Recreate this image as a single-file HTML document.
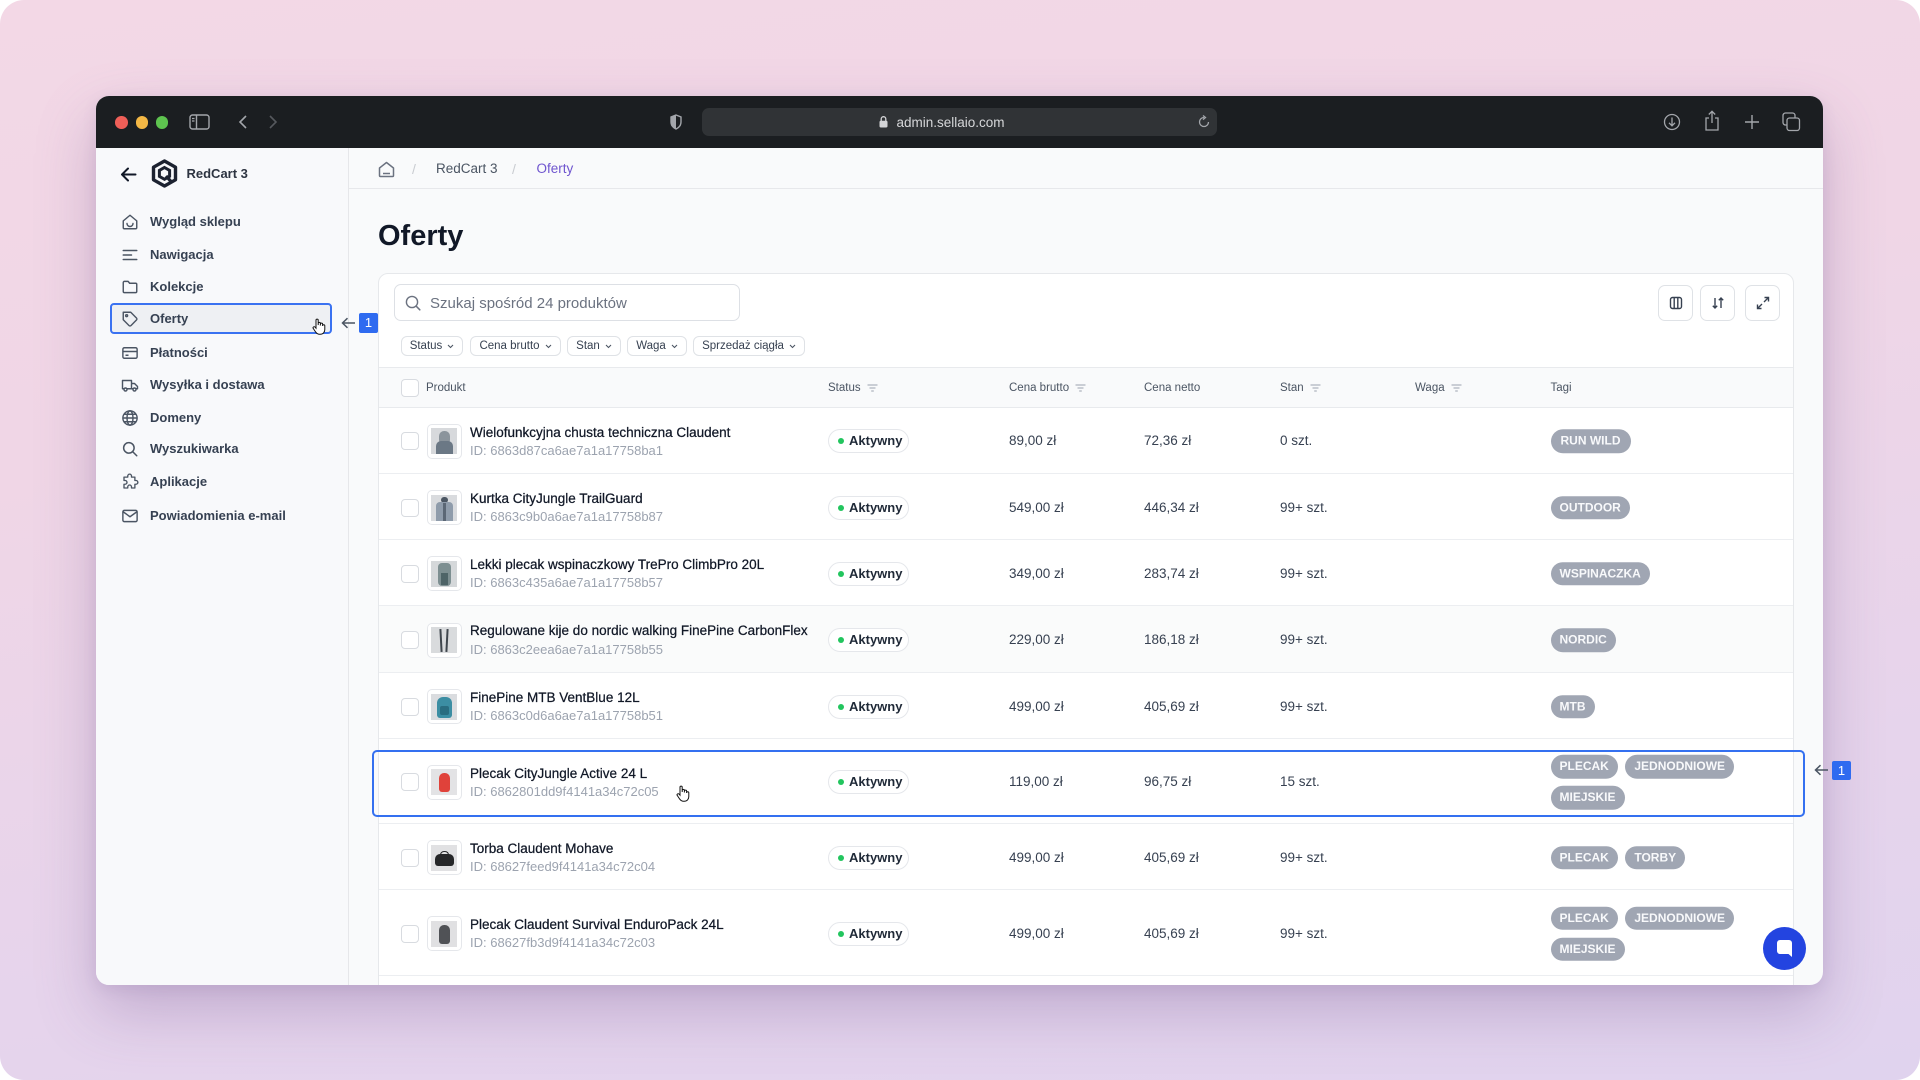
<!DOCTYPE html>
<html><head><meta charset="utf-8">
<style>
*{box-sizing:border-box;margin:0;padding:0}
html,body{width:1920px;height:1080px;overflow:hidden;background:#fff;font-family:"Liberation Sans",Arial,sans-serif}
.a{position:absolute}
.bg{position:absolute;left:0;top:0;width:1920px;height:1080px;border-radius:24px;background:linear-gradient(172deg,#f3d8e6 0%,#f0d6e6 35%,#e6d4ec 75%,#e0d3ee 100%)}
.win{position:absolute;left:96px;top:96px;width:1727px;height:889px;border-radius:13px;overflow:hidden;background:#f9fafb;box-shadow:0 26px 60px rgba(110,80,140,.30),0 4px 14px rgba(110,80,140,.12)}
.tl{position:absolute;top:20px;width:12.5px;height:12.5px;border-radius:50%}
.side{position:absolute;left:0;top:52px;width:253px;height:837px;background:#f8f9fb;border-right:1px solid #e6e7ea}
.mi{position:absolute;left:54px;height:20px;line-height:20px;font-size:13px;font-weight:bold;color:#364152;white-space:nowrap}
.ic{position:absolute;left:25px;width:18px;height:18px}
.card{position:absolute;left:282px;top:177px;width:1416px;height:800px;background:#fff;border:1px solid #e6e8eb;border-radius:10px;overflow:hidden}
.chip{position:absolute;top:62px;height:20px;border:1px solid #dfe2e6;border-radius:6px;font-size:11.5px;color:#374151;display:flex;align-items:center;justify-content:center;gap:5px;white-space:nowrap;background:#fff}
.ib{position:absolute;top:11px;width:35px;height:36px;border:1px solid #dfe2e6;border-radius:7px;background:#fff;display:flex;align-items:center;justify-content:center}
.hd{position:absolute;top:0;height:40px;line-height:40px;font-size:11.5px;color:#4b5563;display:flex;align-items:center;gap:6px;white-space:nowrap}
.row{position:absolute;left:0;width:1414px;border-bottom:1px solid #eceef1}
.cb{position:absolute;left:22px;top:calc(50% - 7.8px);width:18px;height:18px;border:1px solid #d8dbe0;border-radius:4px;background:#fff}
.th{position:absolute;left:47.5px;top:calc(50% - 16.3px);width:35px;height:35px;border:1px solid #e5e7eb;border-radius:5px;background:#fff;overflow:hidden}
.ti{position:absolute;left:3.5px;top:3.5px;width:26px;height:26px;background:#dcdde0;overflow:hidden}
.nm{position:absolute;left:91px;top:calc(50% - 15.5px);height:16px;line-height:16px;font-size:13.5px;color:#111827;white-space:nowrap;-webkit-text-stroke:0.25px #111827}
.id{position:absolute;left:91px;top:calc(50% + 2.8px);height:16px;line-height:16px;font-size:13px;color:#9ca3af;white-space:nowrap}
.pill{position:absolute;left:449px;top:calc(50% - 10.8px);width:81px;height:24px;border:1px solid #e5e7eb;border-radius:12px;background:#fff;font-size:13px;font-weight:bold;color:#1f2937;line-height:22px;padding-left:20px}
.pill:before{content:"";position:absolute;left:9px;top:8px;width:6px;height:6px;border-radius:50%;background:#22c55e}
.v{position:absolute;top:calc(50% - 6.8px);height:16px;line-height:16px;font-size:13.5px;color:#374151;white-space:nowrap}
.tags{position:absolute;left:1171.5px;top:calc(50% + 1.2px);transform:translateY(-50%);width:200px;display:flex;flex-wrap:wrap;gap:7.5px 7.5px}
.tg{height:23.5px;line-height:23.5px;border-radius:12px;background:#a0a6b3;color:#f8f9fb;font-size:12px;font-weight:bold;padding:0 9px;white-space:nowrap}
</style></head><body>
<div class="bg"></div>

<div class="win">
  <!-- title bar -->
  <div class="a" style="left:0;top:0;width:1727px;height:52px;background:#1b1e21"></div>
  <div class="tl" style="left:19.25px;background:#ef5f58"></div>
  <div class="tl" style="left:39.5px;background:#f4b845"></div>
  <div class="tl" style="left:59.75px;background:#5ec44f"></div>
  <svg class="a" style="left:93px;top:18px" width="21" height="16" viewBox="0 0 21 16"><rect x="1" y="1" width="19" height="14" rx="2.5" fill="none" stroke="#a3a6ab" stroke-width="1.4"/><line x1="7.5" y1="1" x2="7.5" y2="15" stroke="#a3a6ab" stroke-width="1.4"/><line x1="3" y1="4.5" x2="5.5" y2="4.5" stroke="#a3a6ab" stroke-width="1.2"/><line x1="3" y1="7" x2="5.5" y2="7" stroke="#a3a6ab" stroke-width="1.2"/></svg>
  <svg class="a" style="left:141px;top:19px" width="11" height="14" viewBox="0 0 11 14"><path d="M9 1 L3 7 L9 13" fill="none" stroke="#a3a6ab" stroke-width="1.6"/></svg>
  <svg class="a" style="left:172px;top:19px" width="11" height="14" viewBox="0 0 11 14"><path d="M2 1 L8 7 L2 13" fill="none" stroke="#56595e" stroke-width="1.6"/></svg>
  <svg class="a" style="left:574px;top:18px" width="12" height="16" viewBox="0 0 12 16"><path d="M6 1 L11 3 V8 C11 11.5 8.5 13.8 6 15 C3.5 13.8 1 11.5 1 8 V3 Z" fill="none" stroke="#a3a6ab" stroke-width="1.4"/><path d="M6 1 V15 C3.5 13.8 1 11.5 1 8 V3 Z" fill="#a3a6ab"/></svg>
  <div class="a" style="left:606px;top:12px;width:515px;height:28px;border-radius:7px;background:#303336"></div>
  <svg class="a" style="left:783px;top:19px" width="9" height="13" viewBox="0 0 9 13"><path d="M2.2 6 V4 a2.3 2.3 0 0 1 4.6 0 V6" fill="none" stroke="#d4d5d7" stroke-width="1.3"/><rect x="0.5" y="5.8" width="8" height="6.7" rx="1.2" fill="#d4d5d7"/></svg>
  <div class="a" style="left:800.5px;top:16.5px;height:20px;line-height:20px;font-size:13.5px;color:#d6d7d9">admin.sellaio.com</div>
  <svg class="a" style="left:1101px;top:19px" width="14" height="14" viewBox="0 0 14 14"><path d="M11.5 7 A4.5 4.5 0 1 1 7 2.5" fill="none" stroke="#a3a6ab" stroke-width="1.3"/><path d="M6 0.5 L8.5 2.5 L6 4.6" fill="none" stroke="#a3a6ab" stroke-width="1.3"/></svg>
  <svg class="a" style="left:1567px;top:17px" width="18" height="18" viewBox="0 0 18 18"><circle cx="9" cy="9" r="7.5" fill="none" stroke="#a3a6ab" stroke-width="1.3"/><path d="M9 4.5 V12.5 M6 9.8 L9 12.8 L12 9.8" fill="none" stroke="#a3a6ab" stroke-width="1.3"/></svg>
  <svg class="a" style="left:1608px;top:14px" width="16" height="22" viewBox="0 0 16 22"><path d="M5 8 H2 V20 H14 V8 H11" fill="none" stroke="#a3a6ab" stroke-width="1.3"/><path d="M8 1.5 V13 M4.8 4.5 L8 1.3 L11.2 4.5" fill="none" stroke="#a3a6ab" stroke-width="1.3"/></svg>
  <svg class="a" style="left:1648px;top:18px" width="16" height="16" viewBox="0 0 16 16"><path d="M8 1 V15 M1 8 H15" stroke="#a3a6ab" stroke-width="1.4"/></svg>
  <svg class="a" style="left:1686px;top:16px" width="19" height="20" viewBox="0 0 19 20"><rect x="1" y="1" width="12" height="12" rx="2.5" fill="none" stroke="#a3a6ab" stroke-width="1.3"/><rect x="5" y="6" width="12.5" height="12.5" rx="2.5" fill="#1b1e21" stroke="#a3a6ab" stroke-width="1.3"/></svg>

  <!-- sidebar -->
  <div class="side"></div>
  <svg class="a" style="left:24px;top:69.5px" width="17" height="17" viewBox="0 0 17 17"><path d="M15.5 8.5 H2 M8 2.5 L2 8.5 L8 14.5" fill="none" stroke="#111827" stroke-width="2" stroke-linecap="round" stroke-linejoin="round"/></svg>
  <svg class="a" style="left:55px;top:63px" width="27" height="29" viewBox="0 0 27 29"><path d="M13.5 2 L24.5 8.2 V20.8 L13.5 27 L2.5 20.8 V8.2 Z" fill="none" stroke="#1c2230" stroke-width="3.4" stroke-linejoin="round"/><path d="M13.5 8.5 L18.6 11.4 V17.4 L13.5 20.3 L8.4 17.4 V11.4 Z" fill="none" stroke="#1c2230" stroke-width="3"/><path d="M15 17 L20.5 23" stroke="#1c2230" stroke-width="3.2"/></svg>
  <div class="a" style="left:90.5px;top:68px;height:20px;line-height:20px;font-size:13px;font-weight:bold;color:#2d3441">RedCart 3</div>

  <div class="a" style="left:14px;top:206.5px;width:222px;height:31.5px;border:2px solid #3a72f1;border-radius:4px;background:#eef0f3"></div>

  <svg class="ic" style="top:116.7px" viewBox="0 0 24 24" fill="none" stroke="#4b5563" stroke-width="1.9" stroke-linejoin="round" stroke-linecap="round"><path d="M3 10.5 L12 3 L21 10.5 V19.5 a1.5 1.5 0 0 1 -1.5 1.5 H4.5 A1.5 1.5 0 0 1 3 19.5 Z"/><path d="M8 14 a4 4 0 0 0 8 0"/></svg>
  <div class="mi" style="top:115.7px">Wygląd sklepu</div>
  <svg class="ic" style="top:149.7px" viewBox="0 0 24 24" fill="none" stroke="#4b5563" stroke-width="2" stroke-linecap="round"><path d="M3 6 H21 M3 12 H14 M3 18 H21"/></svg>
  <div class="mi" style="top:148.7px">Nawigacja</div>
  <svg class="ic" style="top:181.5px" viewBox="0 0 24 24" fill="none" stroke="#4b5563" stroke-width="1.9" stroke-linejoin="round"><path d="M3 6 a1.5 1.5 0 0 1 1.5 -1.5 H9.5 L11.5 7 H19.5 A1.5 1.5 0 0 1 21 8.5 V18 a1.5 1.5 0 0 1 -1.5 1.5 H4.5 A1.5 1.5 0 0 1 3 18 Z"/></svg>
  <div class="mi" style="top:180.5px">Kolekcje</div>
  <svg class="ic" style="top:214.4px" viewBox="0 0 24 24" fill="none" stroke="#4b5563" stroke-width="1.9" stroke-linejoin="round"><path d="M20.6 13.4 L13.4 20.6 a2 2 0 0 1 -2.8 0 L3 13 V3 H13 L20.6 10.6 a2 2 0 0 1 0 2.8 Z"/><circle cx="7.5" cy="7.5" r="1.3"/></svg>
  <div class="mi" style="top:213.4px">Oferty</div>
  <svg class="ic" style="top:247.6px" viewBox="0 0 24 24" fill="none" stroke="#4b5563" stroke-width="1.9"><rect x="2.5" y="5" width="19" height="14" rx="2"/><path d="M2.5 10 H21.5 M6 15 H10"/></svg>
  <div class="mi" style="top:246.6px">Płatności</div>
  <svg class="ic" style="top:279.5px" viewBox="0 0 24 24" fill="none" stroke="#4b5563" stroke-width="1.9" stroke-linejoin="round"><path d="M2 6 H14 V17 H2 Z M14 10 H18 L22 14 V17 H14"/><circle cx="6" cy="18" r="2" fill="#f8f9fb"/><circle cx="18" cy="18" r="2" fill="#f8f9fb"/></svg>
  <div class="mi" style="top:278.5px">Wysyłka i dostawa</div>
  <svg class="ic" style="top:312.5px" viewBox="0 0 24 24" fill="none" stroke="#4b5563" stroke-width="1.9"><circle cx="12" cy="12" r="9.5"/><ellipse cx="12" cy="12" rx="4" ry="9.5"/><path d="M2.5 12 H21.5 M4 7 H20 M4 17 H20"/></svg>
  <div class="mi" style="top:311.5px">Domeny</div>
  <svg class="ic" style="top:344.4px" viewBox="0 0 24 24" fill="none" stroke="#4b5563" stroke-width="2" stroke-linecap="round"><circle cx="10.5" cy="10.5" r="7"/><path d="M16 16 L21 21"/></svg>
  <div class="mi" style="top:343.4px">Wyszukiwarka</div>
  <svg class="ic" style="top:377.4px" viewBox="0 0 24 24" fill="none" stroke="#4b5563" stroke-width="1.8" stroke-linejoin="round"><path d="M9 4 a2.5 2.5 0 0 1 5 0 V5.5 H18.5 V10 H20 a2.5 2.5 0 0 1 0 5 H18.5 V20 H14 V18.5 a2.5 2.5 0 0 0 -5 0 V20 H4 V15 H5.5 a2.5 2.5 0 0 0 0 -5 H4 V5.5 H9 Z"/></svg>
  <div class="mi" style="top:376.4px">Aplikacje</div>
  <svg class="ic" style="top:410.5px" viewBox="0 0 24 24" fill="none" stroke="#4b5563" stroke-width="1.9" stroke-linejoin="round"><rect x="2.5" y="4.5" width="19" height="15" rx="2"/><path d="M3 6.5 L12 13 L21 6.5"/></svg>
  <div class="mi" style="top:409.5px">Powiadomienia e-mail</div>

  <!-- sidebar cursor -->
  <svg class="a" style="left:216px;top:222px" width="14" height="17" viewBox="0 0 14 17"><path d="M4 8 V2.2 a1.1 1.1 0 0 1 2.2 0 V7 M6.2 6.5 V5.5 a1.1 1.1 0 0 1 2.2 0 V7.5 M8.4 7 V6.2 a1.1 1.1 0 0 1 2.2 0 V8 M10.6 7.8 a1.1 1.1 0 0 1 2.2 0 V11.5 c0 2.8 -1.8 4.8 -4.5 4.8 H7.5 c-1.8 0 -2.8 -0.8 -3.8 -2.2 L1.3 10.5 a1.1 1.1 0 0 1 1.7 -1.4 L4 10.2 V8" fill="#fff" stroke="#111" stroke-width="1"/></svg>

  <!-- breadcrumb -->
  <div class="a" style="left:253px;top:91.5px;width:1474px;height:1px;background:#e7e8eb"></div>
  <svg class="a" style="left:282px;top:64.5px" width="17" height="17" viewBox="0 0 17 17"><path d="M1.5 7 L8.5 1.5 L15.5 7 V14.5 a1 1 0 0 1 -1 1 H2.5 a1 1 0 0 1 -1 -1 Z" fill="none" stroke="#6b7280" stroke-width="1.5" stroke-linejoin="round"/><path d="M5 12.5 H12" stroke="#6b7280" stroke-width="1.5"/></svg>
  <div class="a" style="left:316px;top:63px;height:20px;line-height:20px;font-size:14px;color:#c9ccd1">/</div>
  <div class="a" style="left:340px;top:63px;height:20px;line-height:20px;font-size:13.5px;color:#4b5563">RedCart 3</div>
  <div class="a" style="left:416px;top:63px;height:20px;line-height:20px;font-size:14px;color:#c9ccd1">/</div>
  <div class="a" style="left:440.5px;top:63px;height:20px;line-height:20px;font-size:13.5px;color:#6f55cf">Oferty</div>

  <div class="a" style="left:282px;top:125.5px;height:29px;line-height:29px;font-size:29px;font-weight:bold;color:#111827">Oferty</div>

  <!-- card -->
  <div class="card">
    <div class="a" style="left:15px;top:10px;width:346px;height:37px;border:1px solid #dde0e5;border-radius:7px;background:#fff"></div>
    <svg class="a" style="left:26px;top:21px" width="16" height="16" viewBox="0 0 16 16"><circle cx="7" cy="7" r="5.6" fill="none" stroke="#6b7280" stroke-width="1.4"/><path d="M11.2 11.2 L14.8 14.8" stroke="#6b7280" stroke-width="1.5" stroke-linecap="round"/></svg>
    <div class="a" style="left:51px;top:20px;height:20px;line-height:20px;font-size:15px;color:#6b7280">Szukaj spośród 24 produktów</div>

    <div class="ib" style="left:1279px"><svg width="14" height="14" viewBox="0 0 14 14"><rect x="1.5" y="1.5" width="11" height="11" rx="2" fill="none" stroke="#374151" stroke-width="1.4"/><path d="M5.2 1.5 V12.5 M8.8 1.5 V12.5" stroke="#374151" stroke-width="1.4"/></svg></div>
    <div class="ib" style="left:1321px"><svg width="14" height="14" viewBox="0 0 14 14"><path d="M4 2 V12 M1.8 9.8 L4 12 L6.2 9.8 M10 12 V2 M7.8 4.2 L10 2 L12.2 4.2" fill="none" stroke="#374151" stroke-width="1.4"/></svg></div>
    <div class="ib" style="left:1366px"><svg width="14" height="14" viewBox="0 0 14 14"><path d="M8.5 1.5 H12.5 V5.5 M12.5 1.5 L8 6 M5.5 12.5 H1.5 V8.5 M1.5 12.5 L6 8" fill="none" stroke="#374151" stroke-width="1.4"/></svg></div>

    <div class="chip" style="left:22px;width:62px">Status<svg width="7" height="5" viewBox="0 0 7 5"><path d="M1 1 L3.5 3.5 L6 1" fill="none" stroke="#4b5563" stroke-width="1.1"/></svg></div>
    <div class="chip" style="left:91px;width:91px">Cena brutto<svg width="7" height="5" viewBox="0 0 7 5"><path d="M1 1 L3.5 3.5 L6 1" fill="none" stroke="#4b5563" stroke-width="1.1"/></svg></div>
    <div class="chip" style="left:188px;width:54px">Stan<svg width="7" height="5" viewBox="0 0 7 5"><path d="M1 1 L3.5 3.5 L6 1" fill="none" stroke="#4b5563" stroke-width="1.1"/></svg></div>
    <div class="chip" style="left:248px;width:60px">Waga<svg width="7" height="5" viewBox="0 0 7 5"><path d="M1 1 L3.5 3.5 L6 1" fill="none" stroke="#4b5563" stroke-width="1.1"/></svg></div>
    <div class="chip" style="left:314px;width:112px">Sprzedaż ciągła<svg width="7" height="5" viewBox="0 0 7 5"><path d="M1 1 L3.5 3.5 L6 1" fill="none" stroke="#4b5563" stroke-width="1.1"/></svg></div>

    <!-- header -->
    <div class="a" style="left:0;top:93px;width:1414px;height:40.5px;background:#f9fafb;border-top:1px solid #e8eaed;border-bottom:1px solid #e8eaed">
      <div class="a" style="left:22px;top:10.5px;width:18px;height:18px;border:1px solid #d8dbe0;border-radius:4px;background:#fff"></div>
      <div class="hd" style="left:47px">Produkt</div>
      <div class="hd" style="left:449px">Status<svg width="11" height="8" viewBox="0 0 11 8"><path d="M0.5 1 H10.5 M2.5 4 H8.5 M4.2 7 H6.8" stroke="#9ca3af" stroke-width="1.1"/></svg></div>
      <div class="hd" style="left:630px">Cena brutto<svg width="11" height="8" viewBox="0 0 11 8"><path d="M0.5 1 H10.5 M2.5 4 H8.5 M4.2 7 H6.8" stroke="#9ca3af" stroke-width="1.1"/></svg></div>
      <div class="hd" style="left:765px">Cena netto</div>
      <div class="hd" style="left:901px">Stan<svg width="11" height="8" viewBox="0 0 11 8"><path d="M0.5 1 H10.5 M2.5 4 H8.5 M4.2 7 H6.8" stroke="#9ca3af" stroke-width="1.1"/></svg></div>
      <div class="hd" style="left:1036px">Waga<svg width="11" height="8" viewBox="0 0 11 8"><path d="M0.5 1 H10.5 M2.5 4 H8.5 M4.2 7 H6.8" stroke="#9ca3af" stroke-width="1.1"/></svg></div>
      <div class="hd" style="left:1171.5px">Tagi</div>
    </div>

    <!-- row 1 -->
    <div class="row" style="top:133.5px;height:66.2px">
      <div class="cb"></div>
      <div class="th"><div class="ti" style="background:#d7d9dc"><div class="a" style="left:8px;top:3px;width:11px;height:12px;border-radius:5px 5px 3px 3px;background:#8b949c"></div><div class="a" style="left:5px;top:13px;width:17px;height:14px;border-radius:5px 5px 0 0;background:#6b7885"></div></div></div>
      <div class="nm">Wielofunkcyjna chusta techniczna Claudent</div>
      <div class="id">ID: 6863d87ca6ae7a1a17758ba1</div>
      <div class="pill">Aktywny</div>
      <div class="v" style="left:630px">89,00 zł</div>
      <div class="v" style="left:765px">72,36 zł</div>
      <div class="v" style="left:901px">0 szt.</div>
      <div class="tags"><span class="tg" style="padding:0 10px">RUN WILD</span></div>
    </div>
    <!-- row 2 -->
    <div class="row" style="top:199.7px;height:66.3px">
      <div class="cb"></div>
      <div class="th"><div class="ti" style="background:#d9dbde"><div class="a" style="left:10px;top:2px;width:7px;height:6px;border-radius:3px;background:#4b5663"></div><div class="a" style="left:5px;top:7px;width:17px;height:19px;border-radius:4px 4px 0 0;background:#8f9cab"></div><div class="a" style="left:12px;top:8px;width:3px;height:18px;background:#5b6775"></div></div></div>
      <div class="nm">Kurtka CityJungle TrailGuard</div>
      <div class="id">ID: 6863c9b0a6ae7a1a17758b87</div>
      <div class="pill">Aktywny</div>
      <div class="v" style="left:630px">549,00 zł</div>
      <div class="v" style="left:765px">446,34 zł</div>
      <div class="v" style="left:901px">99+ szt.</div>
      <div class="tags"><span class="tg">OUTDOOR</span></div>
    </div>
    <!-- row 3 -->
    <div class="row" style="top:266px;height:66.3px">
      <div class="cb"></div>
      <div class="th"><div class="ti" style="background:#d5d8da"><div class="a" style="left:7px;top:2px;width:13px;height:23px;border-radius:4px;background:#7d8f91"></div><div class="a" style="left:10px;top:12px;width:7px;height:12px;background:#4e6467"></div></div></div>
      <div class="nm">Lekki plecak wspinaczkowy TrePro ClimbPro 20L</div>
      <div class="id">ID: 6863c435a6ae7a1a17758b57</div>
      <div class="pill">Aktywny</div>
      <div class="v" style="left:630px">349,00 zł</div>
      <div class="v" style="left:765px">283,74 zł</div>
      <div class="v" style="left:901px">99+ szt.</div>
      <div class="tags"><span class="tg">WSPINACZKA</span></div>
    </div>
    <!-- row 4 -->
    <div class="row" style="top:332.3px;height:66.4px;background:#fafbfb">
      <div class="cb"></div>
      <div class="th"><div class="ti" style="background:#d9dbdd"><div class="a" style="left:9px;top:2px;width:2px;height:23px;background:#3f464d;transform:rotate(-3deg)"></div><div class="a" style="left:15px;top:2px;width:2px;height:23px;background:#3f464d;transform:rotate(3deg)"></div></div></div>
      <div class="nm">Regulowane kije do nordic walking FinePine CarbonFlex</div>
      <div class="id">ID: 6863c2eea6ae7a1a17758b55</div>
      <div class="pill">Aktywny</div>
      <div class="v" style="left:630px">229,00 zł</div>
      <div class="v" style="left:765px">186,18 zł</div>
      <div class="v" style="left:901px">99+ szt.</div>
      <div class="tags"><span class="tg">NORDIC</span></div>
    </div>
    <!-- row 5 -->
    <div class="row" style="top:398.7px;height:66.3px">
      <div class="cb"></div>
      <div class="th"><div class="ti" style="background:#dadcdf"><div class="a" style="left:6px;top:3px;width:15px;height:21px;border-radius:6px 6px 3px 3px;background:#3c8ea3"></div><div class="a" style="left:9px;top:12px;width:9px;height:9px;border-radius:2px;background:#2a6d80"></div></div></div>
      <div class="nm">FinePine MTB VentBlue 12L</div>
      <div class="id">ID: 6863c0d6a6ae7a1a17758b51</div>
      <div class="pill">Aktywny</div>
      <div class="v" style="left:630px">499,00 zł</div>
      <div class="v" style="left:765px">405,69 zł</div>
      <div class="v" style="left:901px">99+ szt.</div>
      <div class="tags"><span class="tg">MTB</span></div>
    </div>
    <!-- row 6 -->
    <div class="row" style="top:465px;height:85.3px">
      <div class="cb"></div>
      <div class="th"><div class="ti" style="background:#e3e3e5"><div class="a" style="left:8px;top:4px;width:11px;height:19px;border-radius:5px 5px 3px 3px;background:#e0423a"></div></div></div>
      <div class="nm">Plecak CityJungle Active 24 L</div>
      <div class="id">ID: 6862801dd9f4141a34c72c05</div>
      <div class="pill">Aktywny</div>
      <div class="v" style="left:630px">119,00 zł</div>
      <div class="v" style="left:765px">96,75 zł</div>
      <div class="v" style="left:901px">15 szt.</div>
      <div class="tags"><span class="tg">PLECAK</span><span class="tg">JEDNODNIOWE</span><span class="tg">MIEJSKIE</span></div>
    </div>
    <!-- row 7 -->
    <div class="row" style="top:550.3px;height:65.7px">
      <div class="cb"></div>
      <div class="th"><div class="ti" style="background:#e1e1e3"><div class="a" style="left:4px;top:9px;width:19px;height:12px;border-radius:5px 5px 3px 3px;background:#262729"></div><div class="a" style="left:9px;top:6px;width:9px;height:5px;border:1.5px solid #262729;border-bottom:none;border-radius:4px 4px 0 0"></div></div></div>
      <div class="nm">Torba Claudent Mohave</div>
      <div class="id">ID: 68627feed9f4141a34c72c04</div>
      <div class="pill">Aktywny</div>
      <div class="v" style="left:630px">499,00 zł</div>
      <div class="v" style="left:765px">405,69 zł</div>
      <div class="v" style="left:901px">99+ szt.</div>
      <div class="tags"><span class="tg">PLECAK</span><span class="tg">TORBY</span></div>
    </div>
    <!-- row 8 -->
    <div class="row" style="top:616px;height:86px">
      <div class="cb"></div>
      <div class="th"><div class="ti" style="background:#e0e0e2"><div class="a" style="left:8px;top:4px;width:11px;height:19px;border-radius:5px 5px 3px 3px;background:#505256"></div></div></div>
      <div class="nm">Plecak Claudent Survival EnduroPack 24L</div>
      <div class="id">ID: 68627fb3d9f4141a34c72c03</div>
      <div class="pill">Aktywny</div>
      <div class="v" style="left:630px">499,00 zł</div>
      <div class="v" style="left:765px">405,69 zł</div>
      <div class="v" style="left:901px">99+ szt.</div>
      <div class="tags"><span class="tg">PLECAK</span><span class="tg">JEDNODNIOWE</span><span class="tg">MIEJSKIE</span></div>
    </div>
  </div>

  <!-- highlight overlay on row 6 -->
  <div class="a" style="left:276px;top:653.5px;width:1433px;height:67px;border:2px solid #3470f0;border-radius:5px"></div>
  <svg class="a" style="left:580px;top:689px" width="14" height="17" viewBox="0 0 14 17"><path d="M4 8 V2.2 a1.1 1.1 0 0 1 2.2 0 V7 M6.2 6.5 V5.5 a1.1 1.1 0 0 1 2.2 0 V7.5 M8.4 7 V6.2 a1.1 1.1 0 0 1 2.2 0 V8 M10.6 7.8 a1.1 1.1 0 0 1 2.2 0 V11.5 c0 2.8 -1.8 4.8 -4.5 4.8 H7.5 c-1.8 0 -2.8 -0.8 -3.8 -2.2 L1.3 10.5 a1.1 1.1 0 0 1 1.7 -1.4 L4 10.2 V8" fill="#fff" stroke="#111" stroke-width="1"/></svg>

  <!-- sidebar annotation -->
  <svg class="a" style="left:245px;top:221px" width="15" height="12" viewBox="0 0 15 12"><path d="M14 6 H2 M6.5 1.2 L1.5 6 L6.5 10.8" fill="none" stroke="#4b5563" stroke-width="1.5"/></svg>
  <div class="a" style="left:263px;top:217px;width:19px;height:20px;border-radius:2px;background:#2f6bf0;color:#fff;font-size:13px;line-height:20px;text-align:center">1</div>

  <!-- chat bubble -->
  <div class="a" style="left:1666.5px;top:830.5px;width:43px;height:43px;border-radius:50%;background:#2344e0;display:flex;align-items:center;justify-content:center"><svg width="17" height="19" viewBox="0 0 17 19"><path d="M4 1 H13 a3 3 0 0 1 3 3 V18 L12.5 15 H4 a3 3 0 0 1 -3 -3 V4 a3 3 0 0 1 3 -3 Z" fill="#fff"/></svg></div>
</div>

<!-- right annotation (outside window) -->
<svg class="a" style="left:1814px;top:764px" width="15" height="12" viewBox="0 0 15 12"><path d="M14 6 H2 M6.5 1.2 L1.5 6 L6.5 10.8" fill="none" stroke="#4b5563" stroke-width="1.5"/></svg>
<div class="a" style="left:1832px;top:760.5px;width:19px;height:19px;border-radius:2px;background:#2f6bf0;color:#fff;font-size:13px;line-height:19px;text-align:center">1</div>
</body></html>
